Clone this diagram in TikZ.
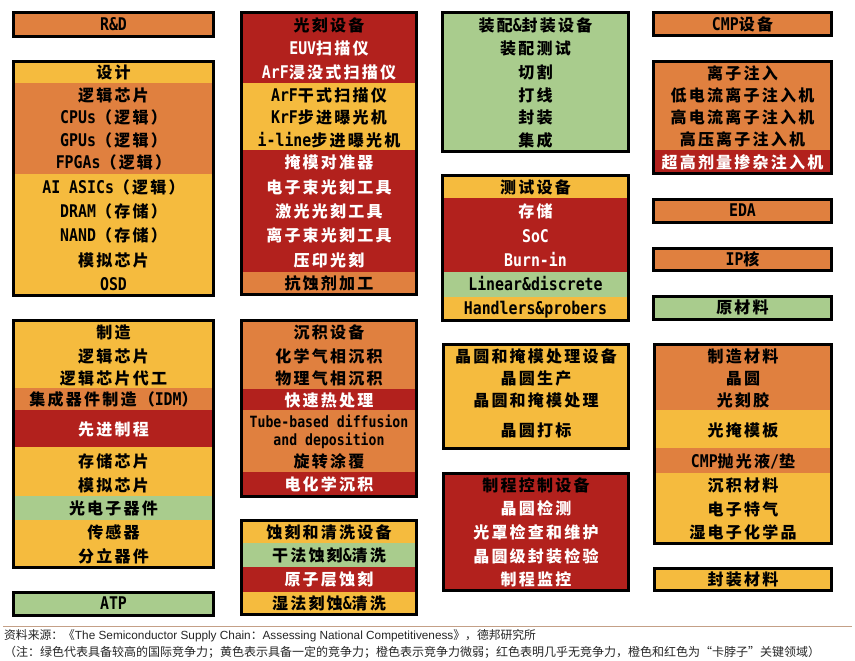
\documentclass[tikz,border=0pt]{standalone}
\usepackage{fontspec}
\newfontfamily\cnf[LetterSpace=14]{Noto Sans CJK SC}
\newfontfamily\latf[FakeStretch=0.85]{DejaVu Sans Mono}
\newfontfamily\ftcn{Noto Sans CJK SC}
\newfontfamily\ftla{Liberation Sans}
\newcommand\lat[1]{{\latf\bfseries\fontsize{17.5pt}{18pt}\selectfont #1}}
\newcommand\lats[1]{{\latf\bfseries\fontsize{15.5pt}{16pt}\selectfont #1}}
\definecolor{cO}{HTML}{E0803F}
\definecolor{cY}{HTML}{F5BB3E}
\definecolor{cR}{HTML}{B2211D}
\definecolor{cG}{HTML}{A9CC8D}
\definecolor{cLine}{RGB}{196,160,135}
\tikzset{
  lbl/.style={anchor=base, yshift=-5.8pt, inner sep=0pt, text=black,
    font=\cnf\bfseries\fontsize{16pt}{18pt}\selectfont},
  wt/.style={text=white},
  box/.style={draw=black, line width=3pt},
  foot/.style={anchor=base west, inner sep=0pt, text=black!85,
    font=\ftcn\fontsize{11.8pt}{13pt}\selectfont},
}
\newcommand\T[5][]{\node[lbl,#1] (#2) at (#3,#4) {#5};}
\newcommand\bx[4]{\draw[box] ({#1+1.5},{#2+1.5}) rectangle ({#3-1.5},{#4-1.5});}
\newcommand\bd[5]{\fill[#5] (#1,#2) rectangle (#3,#4);}
\begin{document}
\begin{tikzpicture}[x=1pt,y=-1pt]
\useasboundingbox (0,0) rectangle (855,661);
\fill[white] (0,0) rectangle (855,661);
% ---------- Column A ----------
\bd{12}{11}{215}{38}{cO}\bx{12}{11}{215}{38}
\T{rd}{113.5}{24.5}{\lat{R\&D}}
\bd{12}{60}{215}{83}{cY}\bd{12}{83}{215}{174}{cO}\bd{12}{174}{215}{297}{cY}\bx{12}{60}{215}{297}
\T{sj}{113.5}{72.5}{设计}
\T{sj1}{113.5}{96}{逻辑芯片}
\T{sj2}{113.5}{118}{\lat{CPUs}（逻辑）}
\T{sj3}{113.5}{140.5}{\lat{GPUs}（逻辑）}
\T{sj4}{113.5}{163}{\lat{FPGAs}（逻辑）}
\T{sj5}{113.5}{188}{\lat{AI ASICs}（逻辑）}
\T{sj6}{113.5}{212}{\lat{DRAM}（存储）}
\T{sj7}{113.5}{236}{\lat{NAND}（存储）}
\T{sj8}{113.5}{260.5}{模拟芯片}
\T{sj9}{113.5}{284.5}{\lat{OSD}}
\bd{12}{319}{215}{388}{cY}\bd{12}{388}{215}{410}{cO}\bd{12}{410}{215}{447}{cR}\bd{12}{447}{215}{496}{cY}\bd{12}{496}{215}{520}{cG}\bd{12}{520}{215}{569}{cY}\bx{12}{319}{215}{569}
\T{zz}{113.5}{332.5}{制造}
\T{zz1}{113.5}{357}{逻辑芯片}
\T{zz2}{113.5}{379}{逻辑芯片代工}
\T{zz3}{113.5}{400}{集成器件制造（\lat{IDM}）}
\T[wt]{zz4}{113.5}{430}{先进制程}
\T{zz5}{113.5}{462}{存储芯片}
\T{zz6}{113.5}{485.5}{模拟芯片}
\T{zz7}{113.5}{509}{光电子器件}
\T{zz8}{113.5}{532.5}{传感器}
\T{zz9}{113.5}{556.5}{分立器件}
\bd{12}{591}{215}{617}{cG}\bx{12}{591}{215}{617}
\T{atp}{113.5}{604}{\lat{ATP}}
% ---------- Column B ----------
\bd{240}{11}{418}{83}{cR}\bd{240}{83}{418}{150}{cY}\bd{240}{150}{418}{272}{cR}\bd{240}{272}{418}{296}{cO}\bx{240}{11}{418}{296}
\T{gk}{329}{26}{光刻设备}
\T[wt]{gk1}{329}{49}{\lat{EUV}扫描仪}
\T[wt]{gk2}{329}{73}{\lat{ArF}浸没式扫描仪}
\T{gk3}{329}{96}{\lat{ArF}干式扫描仪}
\T{gk4}{329}{118}{\lat{KrF}步进曝光机}
\T{gk5}{329}{141}{\lat{i-line}步进曝光机}
\T[wt]{gk6}{329}{163}{掩模对准器}
\T[wt]{gk7}{329}{188}{电子束光刻工具}
\T[wt]{gk8}{329}{212}{激光光刻工具}
\T[wt]{gk9}{329}{236}{离子束光刻工具}
\T[wt]{gk10}{329}{260.5}{压印光刻}
\T{gk11}{329}{284}{抗蚀剂加工}
\bd{240}{319}{418}{389}{cO}\bd{240}{389}{418}{410}{cR}\bd{240}{410}{418}{472}{cO}\bd{240}{472}{418}{498}{cR}\bx{240}{319}{418}{498}
\T{cj}{329}{332.5}{沉积设备}
\T{cj1}{329}{357}{化学气相沉积}
\T{cj2}{329}{379}{物理气相沉积}
\T[wt]{cj3}{329}{400.5}{快速热处理}
\T{cj4}{329}{421.5}{\lats{Tube-based diffusion}}
\T{cj5}{329}{439.5}{\lats{and deposition}}
\T{cj6}{329}{462}{旋转涂覆}
\T[wt]{cj7}{329}{485}{电化学沉积}
\bd{240}{519}{418}{543}{cY}\bd{240}{543}{418}{567}{cG}\bd{240}{567}{418}{592}{cR}\bd{240}{592}{418}{616}{cY}\bx{240}{519}{418}{616}
\T{sk}{329}{532.5}{蚀刻和清洗设备}
\T{sk1}{329}{556}{干法蚀刻\lat{\&}清洗}
\T[wt]{sk2}{329}{579.5}{原子层蚀刻}
\T{sk3}{329}{604}{湿法刻蚀\lat{\&}清洗}
% ---------- Column C ----------
\bd{441}{11}{630}{153}{cG}\bx{441}{11}{630}{153}
\T{zp}{535.5}{26}{装配\lat{\&}封装设备}
\T{zp1}{535.5}{49}{装配测试}
\T{zp2}{535.5}{73}{切割}
\T{zp3}{535.5}{96}{打线}
\T{zp4}{535.5}{117.5}{封装}
\T{zp5}{535.5}{141}{集成}
\bd{441}{174}{630}{198}{cY}\bd{441}{198}{630}{272}{cR}\bd{441}{272}{630}{297}{cG}\bd{441}{297}{630}{322}{cY}\bx{441}{174}{630}{322}
\T{cs}{535.5}{188}{测试设备}
\T[wt]{cs1}{535.5}{212}{存储}
\T[wt]{cs2}{535.5}{236.5}{\lat{SoC}}
\T[wt]{cs3}{535.5}{260.5}{\lat{Burn-in}}
\T{cs4}{535.5}{285}{\lat{Linear\&discrete}}
\T{cs5}{535.5}{309}{\lat{Handlers\&probers}}
\bd{442}{343}{630}{450}{cY}\bx{442}{343}{630}{450}
\T{jy}{536}{357}{晶圆和掩模处理设备}
\T{jy1}{536}{379}{晶圆生产}
\T{jy2}{536}{401}{晶圆和掩模处理}
\T{jy3}{536}{431}{晶圆打标}
\bd{442}{472}{630}{592}{cR}\bx{442}{472}{630}{592}
\T{zc}{536}{486}{制程控制设备}
\T[wt]{zc1}{536}{509}{晶圆检测}
\T[wt]{zc2}{536}{533}{光罩检查和维护}
\T[wt]{zc3}{536}{556.5}{晶圆级封装检验}
\T[wt]{zc4}{536}{580}{制程监控}
% ---------- Column D ----------
\bd{652}{11}{833}{37}{cO}\bx{652}{11}{833}{37}
\T{cmp}{742.5}{24.5}{\lat{CMP}设备}
\bd{652}{60}{833}{150}{cO}\bd{652}{150}{833}{175}{cR}\bx{652}{60}{833}{175}
\T{lz}{742.5}{73.5}{离子注入}
\T{lz1}{742.5}{96}{低电流离子注入机}
\T{lz2}{742.5}{117.5}{高电流离子注入机}
\T{lz3}{742.5}{140}{高压离子注入机}
\T[wt]{lz4}{742.5}{163}{超高剂量掺杂注入机}
\bd{652}{198}{833}{224}{cO}\bx{652}{198}{833}{224}
\T{eda}{742.5}{211}{\lat{EDA}}
\bd{652}{247}{833}{272}{cO}\bx{652}{247}{833}{272}
\T{ip}{742.5}{259.5}{\lat{IP}核}
\bd{652}{295}{833}{321}{cG}\bx{652}{295}{833}{321}
\T{ycl}{742.5}{308}{原材料}
\bd{653}{343}{833}{410}{cO}\bd{653}{410}{833}{448}{cY}\bd{653}{448}{833}{473}{cO}\bd{653}{473}{833}{545}{cY}\bx{653}{343}{833}{545}
\T{zl}{743}{357}{制造材料}
\T{zl1}{743}{379}{晶圆}
\T{zl2}{743}{401}{光刻胶}
\T{zl3}{743}{430.5}{光掩模板}
\T{zl4}{743}{462}{\lat{CMP}抛光液\lat{/}垫}
\T{zl5}{743}{486}{沉积材料}
\T{zl6}{743}{509.5}{电子特气}
\T{zl7}{743}{532.5}{湿电子化学品}
\bd{653}{567}{833}{592}{cY}\bx{653}{567}{833}{592}
\T{fz}{743}{579.5}{封装材料}
% ---------- Footer ----------
\draw[cLine, line width=0.8pt] (3,626) -- (852,626);
\node[foot] (f1) at (4,639) {资料来源：《{\ftla The Semiconductor Supply Chain}：{\ftla Assessing National Competitiveness}》，德邦研究所};
\node[foot, font=\ftcn\fontsize{12pt}{13pt}\selectfont] (f2) at (4,656) {（注：绿色代表具备较高的国际竞争力；黄色表示具备一定的竞争力；橙色表示竞争力微弱；红色表明几乎无竞争力，橙色和红色为“卡脖子”关键领域）};
\end{tikzpicture}
\end{document}
